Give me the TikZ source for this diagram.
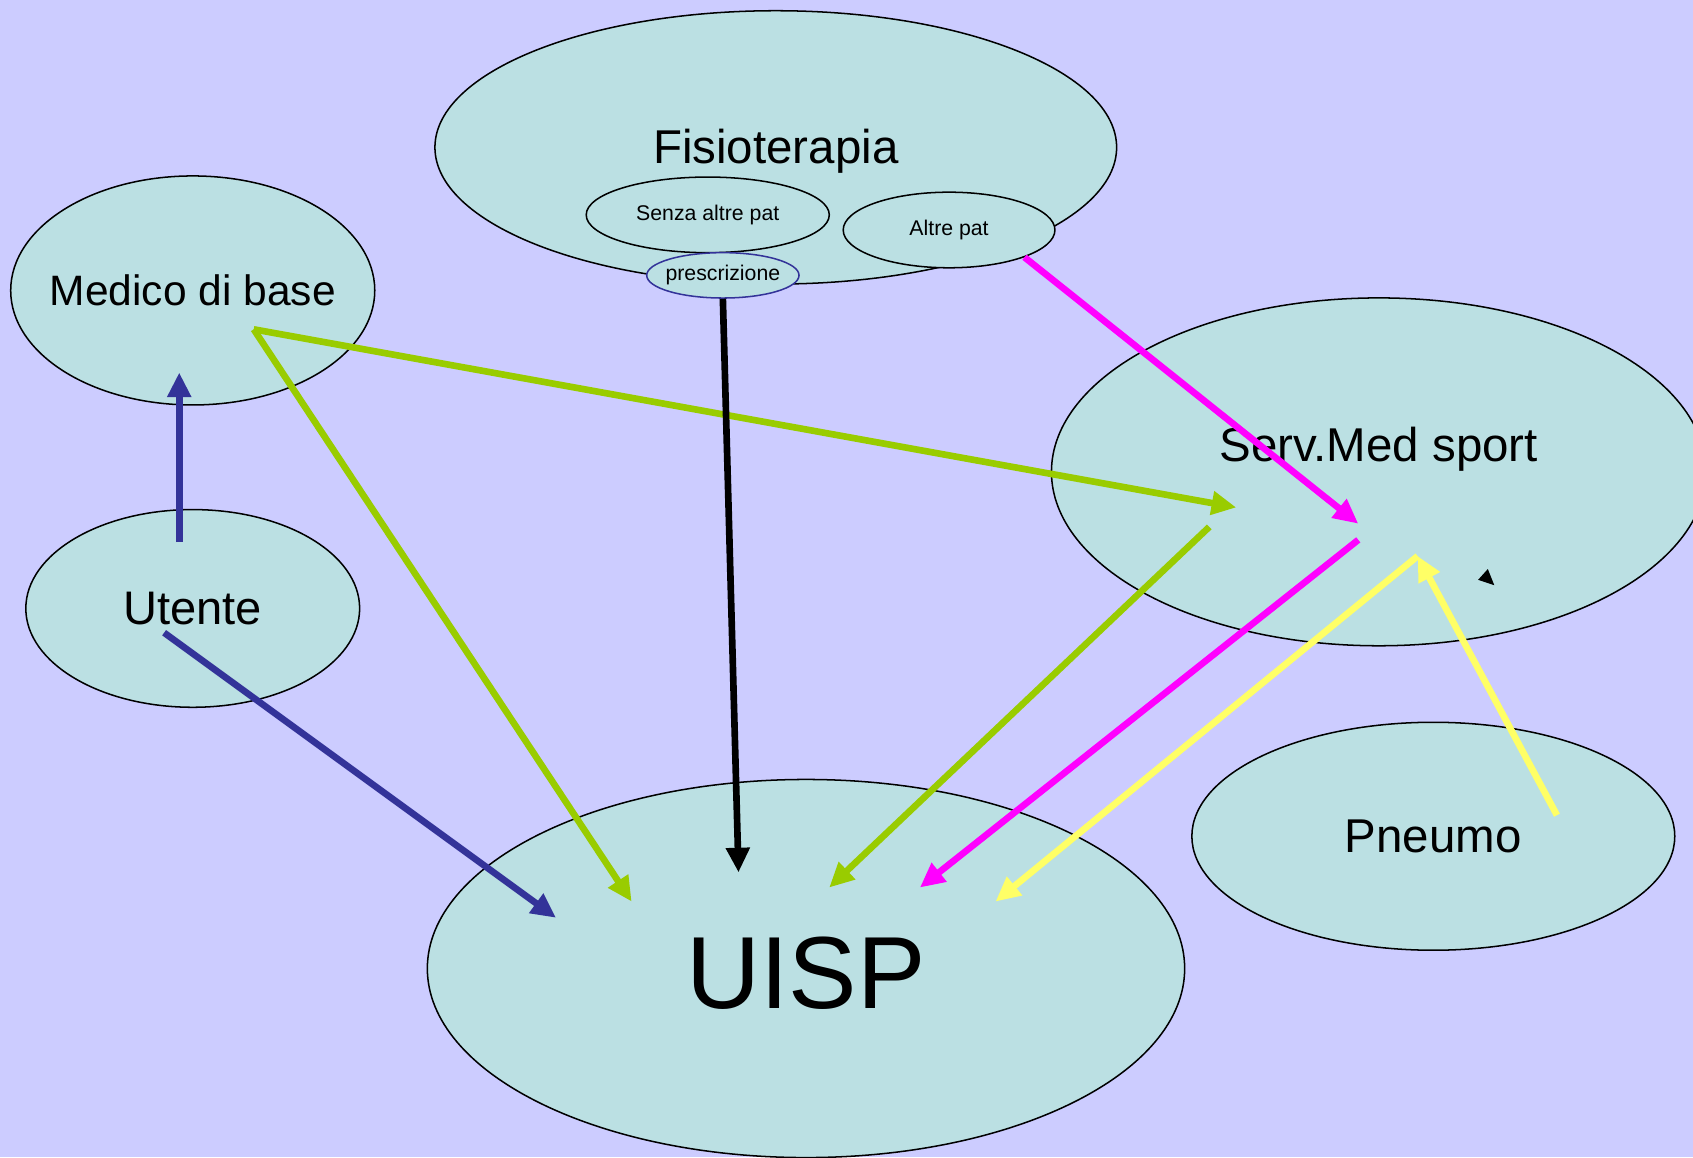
\documentclass[tikz,border=0pt]{standalone}
\usepackage{fontspec}
\setmainfont{Liberation Sans}
\usetikzlibrary{arrows.meta,shapes.geometric}

\definecolor{fondo}{HTML}{CCCCFF}
\definecolor{cella}{HTML}{BBE0E3}
\definecolor{blu}{HTML}{333399}
\definecolor{verde}{HTML}{99CC00}
\definecolor{fucsia}{HTML}{FF00FF}
\definecolor{giallo}{HTML}{FFFF66}

\begin{document}
\begin{tikzpicture}[
    x=0.01cm, y=-0.01cm,
    ente/.style={ellipse, draw, fill=cella, inner sep=0pt, align=center},
    freccia/.style={line width=1.75pt, -{Triangle[length=6.5pt,width=6pt]}},
  ]
    \fill[fondo] (0,0) rectangle (1568,1072);
    \useasboundingbox (0,0) rectangle (1568,1072);

    \node[ente, minimum width=6.31cm, minimum height=2.53cm,
          label={[font=\fontsize{12.5}{15}\selectfont, yshift=-0.04cm]center:Fisioterapia}] (fisio) at (718.5,136.5) {};
    \node[ente, minimum width=2.25cm, minimum height=0.70cm, font=\fontsize{5.6}{7}\selectfont] (senza) at (655.5,199) {Senza altre pat};
    \node[ente, minimum width=1.96cm, minimum height=0.70cm, font=\fontsize{5.6}{7}\selectfont] (altre) at (879,213) {Altre pat};
    \node[ente, draw=blu, minimum width=1.41cm, minimum height=0.42cm,
          label={[font=\fontsize{5.6}{7}\selectfont]center:prescrizione}] (prescr) at (669.5,255) {};
    \node[ente, minimum width=3.37cm, minimum height=2.12cm,
          label={[font=\fontsize{11.2}{14}\selectfont]center:Medico di base}] (medico) at (178.5,269) {};
    \node[ente, minimum width=3.09cm, minimum height=1.83cm, font=\fontsize{12.4}{15}\selectfont] (utente) at (178.5,563.5) {Utente};
    \node[ente, minimum width=6.06cm, minimum height=3.22cm,
          label={[font=\fontsize{12.5}{15}\selectfont, yshift=0.21cm]center:Serv.Med sport}] (servmed) at (1277,437) {};
    \node[ente, minimum width=4.47cm, minimum height=2.11cm, font=\fontsize{12.5}{15}\selectfont] (pneumo) at (1327.5,774.5) {Pneumo};
    \node[ente, minimum width=7.01cm, minimum height=3.50cm,
          label={[font=\fontsize{27}{32}\selectfont, yshift=-0.04cm]center:UISP}] (uisp) at (746.5,897) {};

    % punti di partenza e di arrivo
    \coordinate (medico-out) at (235,305);
    \coordinate (medico-in) at (166,345);
    \coordinate (utente-su) at (166,502);
    \coordinate (utente-out) at (152,586);
    \coordinate (servmed-verde) at (1145,470);
    \coordinate (servmed-verde-out) at (1120,488);
    \coordinate (servmed-fucsia) at (1258,485);
    \coordinate (servmed-fucsia-out) at (1258,500);
    \coordinate (servmed-giallo) at (1313,515);
    \coordinate (pneumo-out) at (1442,755);
    \coordinate (uisp-blu) at (515,850);
    \coordinate (uisp-verde1) at (585,835);
    \coordinate (uisp-nero) at (684,808);
    \coordinate (uisp-verde2) at (768,822);
    \coordinate (uisp-fucsia) at (852,822);
    \coordinate (uisp-giallo) at (922,835);

    \draw[freccia, blu] (utente-su) -- (medico-in);
    \draw[freccia, blu] (utente-out) -- (uisp-blu);
    \draw[freccia, verde] (medico-out) -- (uisp-verde1);
    \draw[freccia, verde] (medico-out) -- (servmed-verde);
    \draw[freccia, verde] (servmed-verde-out) -- (uisp-verde2);
    \draw[freccia, black] (prescr.south) -- (uisp-nero);
    \draw[freccia, fucsia] (altre.south east) -- (servmed-fucsia);
    \draw[freccia, fucsia] (servmed-fucsia-out) -- (uisp-fucsia);
    \draw[freccia, giallo] (pneumo-out) -- (servmed-giallo);
    \draw[freccia, giallo] (servmed-giallo) -- (uisp-giallo);

    \fill[black] (1378,527) -- (1369,537) -- (1384,542) -- cycle;
  \end{tikzpicture}
\end{document}
